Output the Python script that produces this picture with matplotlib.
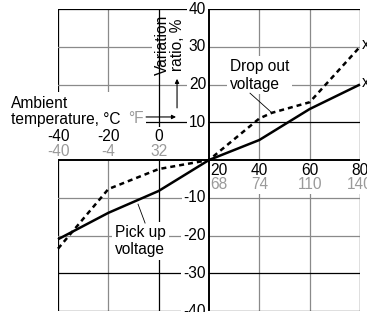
import matplotlib
matplotlib.use("Agg")
import matplotlib.pyplot as plt

plt.rcParams['font.family'] = ['Liberation Sans', 'DejaVu Sans']
plt.rcParams['font.size'] = 11.2

# temperature (deg C) vs variation ratio (%)
pickup_temp = [-40, -20, 0, 20, 40, 60, 80]
pickup_ratio = [-21, -14, -8.2, 0, 5.3, 13.5, 20]
dropout_temp = [-40, -20, 0, 20, 40, 45, 60, 80]
dropout_ratio = [-23.5, -7.7, -2.4, 0, 11, 12.5, 15.3, 30]

temp_c_left = [-40, -20, 0]
temp_f_left = ["-40", "-4", "32"]
temp_c_right = [20, 40, 60, 80]
temp_f_right = ["68", "74", "110", "140"]
ratio_ticks = [40, 30, 20, 10, -10, -20, -30, -40]

GRAY = "#8a8a8a"
LABEL_GRAY = "#9a9a9a"

fig = plt.figure(figsize=(3.67, 3.12), dpi=100)
ax = fig.add_axes([58 / 367, 1 / 312, 302 / 367, 302 / 312])
ax.set_xlim(-40, 80)
ax.set_ylim(-40, 40)
ax.axis("off")

# one px is 120/302 deg horizontally
PX = 120 / 302

# grid and frame
vgrid = {-40: "black", -20: GRAY, 40: GRAY, 60: GRAY, 80: "black"}
for x, c in vgrid.items():
    ax.axvline(x, color=c, lw=0.9, zorder=1)
ax.axvline(0, color="black", lw=0.9, zorder=3)
hgrid = {40: "black", 30: GRAY, 20: GRAY, 10: "black", -10: GRAY, -20: GRAY,
         -30: "black", -40: "black"}
for y, c in hgrid.items():
    ax.axhline(y, color=c, lw=0.9, zorder=1)

# main axes through (20, 0)
ax.axvline(20, color="black", lw=1.4, zorder=5)
ax.axhline(0, color="black", lw=1.4, zorder=5)

wb = dict(facecolor="white", edgecolor="none", pad=1.5)

# y tick labels
for v in ratio_ticks:
    ax.text(20 - 3 * PX, v, str(v), ha="right", va="center", bbox=wb, zorder=4.5)

# x tick labels
for c, f in zip(temp_c_left, temp_f_left):
    ax.text(c, 6.2, str(c), ha="center", va="center", bbox=wb, zorder=4.5)
    ax.text(c, 2.2, f, ha="center", va="center", color=LABEL_GRAY, bbox=wb, zorder=4.5)
for c, f in zip(temp_c_right, temp_f_right):
    dx = 10 * PX if c == 20 else 0
    ax.text(c + dx, -2.9, str(c), ha="center", va="center", bbox=wb, zorder=4.5)
    ax.text(c + dx, -6.5, f, ha="center", va="center", color=LABEL_GRAY, bbox=wb, zorder=4.5)

# axis titles
ax.text(-58.5, 12.9, "Ambient\ntemperature, °C", ha="left", va="center",
        linespacing=1.1,
        bbox=dict(facecolor="white", edgecolor="none", pad=3), zorder=4, clip_on=False)
ax.text(-12.2, 9.9, "°F", ha="left", va="baseline", color=LABEL_GRAY,
        bbox=dict(facecolor="white", edgecolor="none", pad=2), zorder=4)
ax.annotate("", xy=(6.9, 11.4), xytext=(-5.0, 11.4),
            arrowprops=dict(arrowstyle="-|>", lw=0.8, color="black",
                            mutation_scale=6, shrinkA=0, shrinkB=0), zorder=6)

ax.text(4.6, 30.5, "Variation\nratio, %", rotation=90, ha="center", va="center",
        multialignment="center", linespacing=1.0,
        bbox=dict(facecolor="white", edgecolor="none", pad=2), zorder=2)
ax.annotate("", xy=(7.3, 21.5), xytext=(7.3, 13.8),
            arrowprops=dict(arrowstyle="-|>", lw=0.8, color="black",
                            mutation_scale=6, shrinkA=0, shrinkB=0), zorder=6)

# curves
ax.plot(pickup_temp, pickup_ratio, color="black", lw=1.8, zorder=6,
        solid_capstyle="butt", clip_on=False)
ax.plot(dropout_temp, dropout_ratio, color="black", lw=1.8, zorder=6,
        linestyle=(0, (2.0, 1.6)), clip_on=False)

# curve labels
ax.text(28.3, 22.4, "Drop out\nvoltage", ha="left", va="center",
        bbox=dict(facecolor="white", edgecolor="none", pad=2), zorder=4)
ax.plot([36.3, 45.0], [17.7, 12.5], color="black", lw=0.6, zorder=6)
ax.text(-17.35, -21.5, "Pick up\nvoltage", ha="left", va="center",
        bbox=dict(facecolor="white", edgecolor="none", pad=2), zorder=4)
ax.plot([-5.4, -8.2], [-16.7, -11.7], color="black", lw=0.6, zorder=6)

# cut-off marks at right edge
for y in (30.5, 20.4):
    ax.text(80 + 2 * PX, y, "x", ha="left", va="center", clip_on=False)

fig.savefig("out.png", dpi=100)
